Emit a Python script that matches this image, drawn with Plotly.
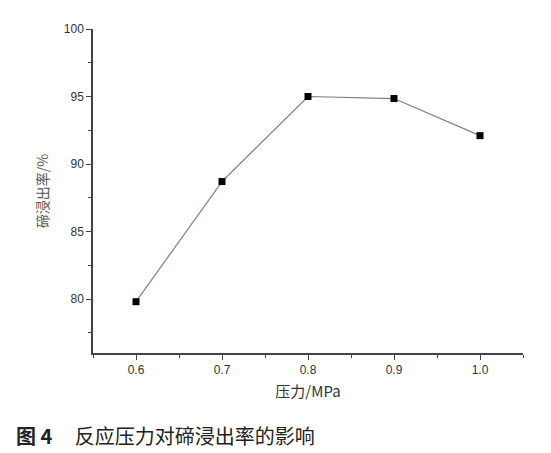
import plotly.graph_objects as go

# 反应压力 (MPa) 与碲浸出率 (%)
pressure = [0.6, 0.7, 0.8, 0.9, 1.0]
leach_rate = [79.8, 88.7, 95.0, 94.85, 92.1]

x_ticks = [0.6, 0.7, 0.8, 0.9, 1.0]
x_labels = ['0.6', '0.7', '0.8', '0.9', '1.0']
y_ticks = [80, 85, 90, 95, 100]

fig = go.Figure(go.Scatter(
    x=pressure, y=leach_rate,
    mode='lines+markers',
    line=dict(color='#8c7b73', width=1.2),
    marker=dict(symbol='square', size=7, color='black'),
))

axis_font = dict(family='Liberation Sans, Arial', size=12, color='#333')

# the page body adds an 8px margin, so the figure is a bit smaller than the window
fig.update_layout(
    width=543, height=445,
    margin=dict(l=85, r=28, t=21, b=100),
    plot_bgcolor='white', paper_bgcolor='white',
    showlegend=False,
    xaxis=dict(
        range=[0.55, 1.05], tickvals=x_ticks, ticktext=x_labels,
        showline=True, linecolor='#444', linewidth=1.5, mirror=False,
        ticks='outside', ticklen=5, tickcolor='#444', tickwidth=1.2,
        minor=dict(ticks='outside', dtick=0.05, tick0=0.55, ticklen=3, tickcolor='#444'),
        showgrid=False, zeroline=False, tickfont=axis_font, automargin=False,
        title=dict(text='压力/MPa', font=dict(family='Noto Sans CJK SC', size=15, color='#333'), standoff=10),
    ),
    yaxis=dict(
        range=[76, 100], tickvals=y_ticks,
        showline=True, linecolor='#444', linewidth=1.5, mirror=False,
        ticks='outside', ticklen=5, tickcolor='#444', tickwidth=1.2,
        minor=dict(ticks='outside', dtick=2.5, tick0=77.5, ticklen=3, tickcolor='#444'),
        showgrid=False, zeroline=False, tickfont=axis_font, automargin=False,
        title=dict(text='碲浸出率/%', font=dict(family='Noto Sans CJK SC', size=14, color='#555'), standoff=12),
    ),
)

fig.add_annotation(
    text='<b>图 4</b>     反应压力对碲浸出率的影响',
    xref='paper', yref='paper', x=-0.183, y=-0.256,
    xanchor='left', yanchor='middle', showarrow=False,
    font=dict(family='Noto Sans CJK SC', size=20, color='#222'),
)

fig.write_html("out.html")
